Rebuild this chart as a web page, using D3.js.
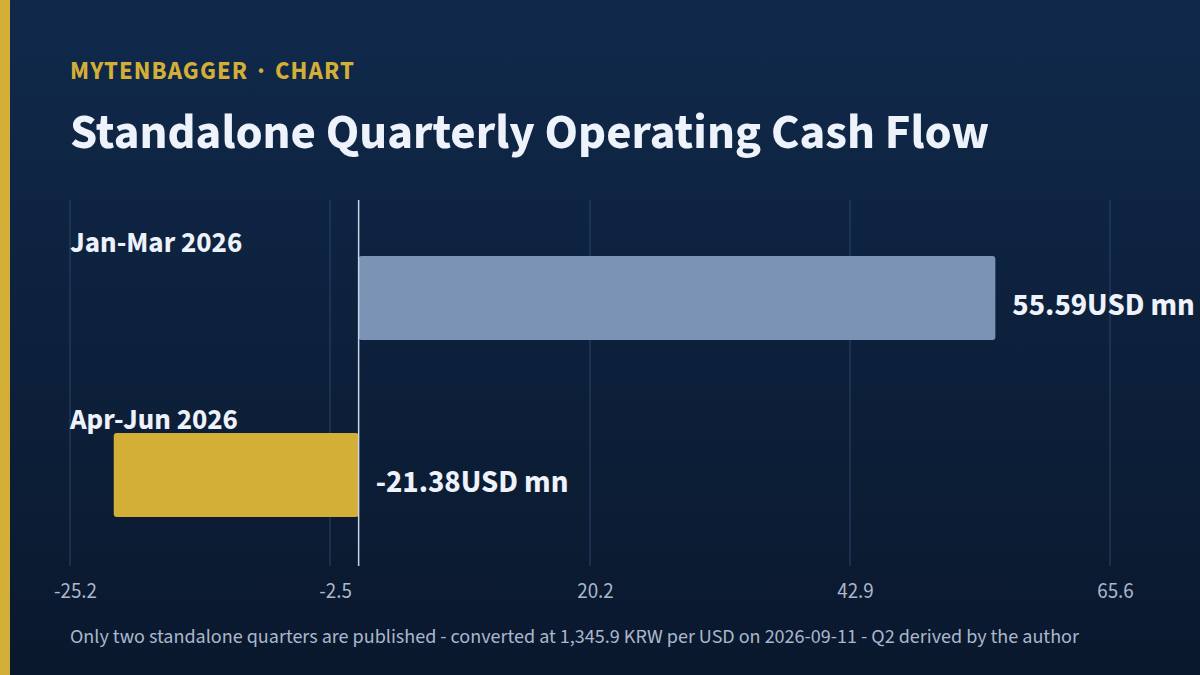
<!DOCTYPE html>
<html>
<head>
<meta charset="utf-8">
<script src="https://cdn.jsdelivr.net/npm/d3@7"></script>
<style>
  html, body { margin: 0; padding: 0; }
  body { width: 1200px; height: 675px; overflow: hidden; background: #0b1a31; }
  svg text { font-family: "Source Sans 3", "Source Sans Pro", Lato, sans-serif; }
</style>
</head>
<body>
<script>
"use strict";

// chart data
var categories = ["Jan-Mar 2026", "Apr-Jun 2026"];
var values = [55.59, -21.38];
var unitLabel = "USD mn";
var tickValues = [-25.2, -2.5, 20.2, 42.9, 65.6];
var kicker = "MYTENBAGGER \u00b7 CHART";
var title = "Standalone Quarterly Operating Cash Flow";
var footnote = "Only two standalone quarters are published - converted at 1,345.9 KRW per USD on 2026-09-11 - Q2 derived by the author";

var WIDTH = 1200, HEIGHT = 675;
var GOLD = "#d4af37";

// plain hyphen for negatives, like the original
var locale = d3.formatLocale({ decimal: ".", thousands: ",", grouping: [3], currency: ["", ""], minus: "-" });
var fmtTick = locale.format(".1f");
var fmtValue = locale.format(".2f");

var svg = d3.select("body").append("svg")
            .attr("width", WIDTH)
            .attr("height", HEIGHT);

// background gradient
var defs = svg.append("defs");
var grad = defs.append("linearGradient")
               .attr("id", "bg")
               .attr("x1", 0).attr("y1", 0)
               .attr("x2", 0).attr("y2", 1);
grad.append("stop").attr("offset", "0%").attr("stop-color", "#10294b");
grad.append("stop").attr("offset", "100%").attr("stop-color", "#0a182d");

svg.append("rect")
   .attr("width", WIDTH).attr("height", HEIGHT)
   .attr("fill", "url(#bg)");

// gold stripe on the left
svg.append("rect")
   .attr("width", 10).attr("height", HEIGHT)
   .attr("fill", GOLD);

// header
svg.append("text")
   .attr("x", 70).attr("y", 79)
   .attr("fill", GOLD)
   .attr("font-size", 25)
   .attr("font-weight", 700)
   .attr("letter-spacing", 1.1)
   .attr("word-spacing", 3)
   .text(kicker);

svg.append("text")
   .attr("x", 70).attr("y", 148)
   .attr("fill", "#eef2fa")
   .attr("font-size", 49)
   .attr("font-weight", 700)
   .text(title);

// scales
var x = d3.scaleLinear()
          .domain([tickValues[0], tickValues[tickValues.length - 1]])
          .range([70, 1110]);

var y = d3.scaleBand()
          .domain(categories)
          .range([200, 573])
          .paddingInner(0.525)
          .paddingOuter(0.316);

var plotTop = 200, plotBottom = 566;

// grid lines
svg.append("g")
   .selectAll("line")
   .data(tickValues)
   .enter()
   .append("line")
   .attr("x1", function(d) { return x(d); })
   .attr("x2", function(d) { return x(d); })
   .attr("y1", plotTop)
   .attr("y2", plotBottom)
   .attr("stroke", "#2b4569")
   .attr("stroke-width", 1);

// x axis tick labels
var xAxis = d3.axisBottom(x)
              .tickValues(tickValues)
              .tickSize(0)
              .tickPadding(0)
              .tickFormat(fmtTick);

var axisG = svg.append("g")
               .attr("transform", "translate(0," + 580 + ")")
               .call(xAxis);
axisG.select(".domain").remove();
axisG.selectAll("text")
     .attr("fill", "#aab7cc")
     .attr("font-size", 21)
     .attr("dx", 5)
     .attr("dy", "0.85em");

// bars
var colors = values.map(function(v) { return v >= 0 ? "#7b93b4" : GOLD; });

svg.append("g")
   .selectAll("rect")
   .data(values)
   .enter()
   .append("rect")
   .attr("x", function(d) { return x(Math.min(0, d)); })
   .attr("y", function(d, i) { return y(categories[i]); })
   .attr("width", function(d) { return Math.abs(x(d) - x(0)); })
   .attr("height", y.bandwidth())
   .attr("rx", 3)
   .attr("fill", function(d, i) { return colors[i]; });

// zero line
svg.append("line")
   .attr("x1", x(0)).attr("x2", x(0))
   .attr("y1", plotTop).attr("y2", plotBottom)
   .attr("stroke", "#c9d4e4")
   .attr("stroke-width", 1.5);

// category labels
svg.append("g")
   .selectAll("text")
   .data(categories)
   .enter()
   .append("text")
   .attr("x", 70)
   .attr("y", function(d) { return y(d) - 4; })
   .attr("fill", "#eef2fa")
   .attr("font-size", 29)
   .attr("font-weight", 700)
   .text(function(d) { return d; });

// value labels
svg.append("g")
   .selectAll("text")
   .data(values)
   .enter()
   .append("text")
   .attr("x", function(d) { return d >= 0 ? x(d) + 17 : x(0) + 17; })
   .attr("y", function(d, i) { return y(categories[i]) + y.bandwidth() / 2 + 17; })
   .attr("fill", "#eef2fa")
   .attr("font-size", 31)
   .attr("font-weight", 700)
   .text(function(d) { return fmtValue(d) + unitLabel; });

// footnote
svg.append("text")
   .attr("x", 70).attr("y", 643)
   .attr("fill", "#aab7cc")
   .attr("font-size", 20.1)
   .text(footnote);
</script>
</body>
</html>
